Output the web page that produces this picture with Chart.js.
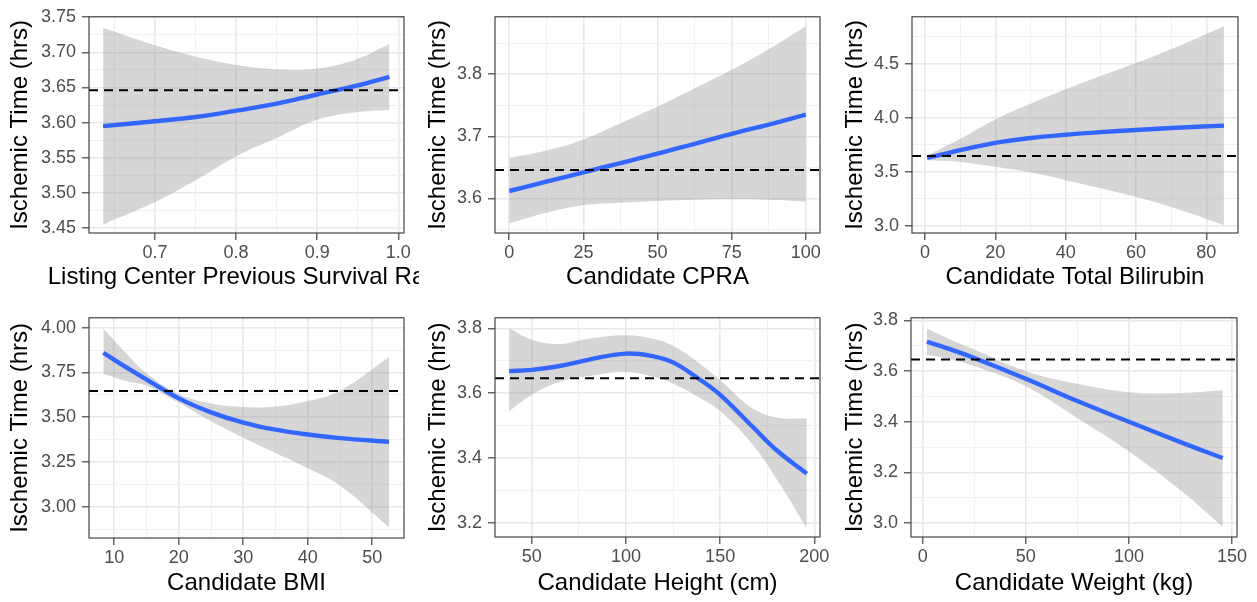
<!DOCTYPE html>
<html>
<head>
<meta charset="utf-8">
<script src="https://cdn.jsdelivr.net/npm/chart.js@4.4.1/dist/chart.umd.min.js"></script>
<style>
  html, body { margin: 0; padding: 0; background: #fff; }
  #wrap { position: relative; width: 1257px; height: 602px; overflow: hidden; }
  #wrap canvas { position: absolute; }
</style>
</head>
<body>
<div id="wrap"></div>
<script>
// smooth fits of ischemic time vs candidate / center covariates
const yTitle = 'Ischemic Time (hrs)';
const refMean = 3.646;   // overall mean, dashed line

// listing center previous survival rate
const survX   = [0.636, 0.70, 0.75, 0.80, 0.85, 0.90, 0.95, 0.989];
const survFit = [3.595, 3.602, 3.608, 3.617, 3.627, 3.640, 3.653, 3.665];
const survLo  = [3.455, 3.487, 3.518, 3.552, 3.578, 3.604, 3.615, 3.618];
const survHi  = [3.735, 3.710, 3.694, 3.682, 3.676, 3.677, 3.691, 3.712];
const survXTicks = ['0.7', '0.8', '0.9', '1.0'];
const survYTicks = ['3.45', '3.50', '3.55', '3.60', '3.65', '3.70', '3.75'];

// candidate CPRA
const cpraX   = [0, 12.5, 25, 37.5, 50, 62.5, 75, 87.5, 100];
const cpraFit = [3.612, 3.627, 3.642, 3.657, 3.672, 3.688, 3.704, 3.719, 3.735];
const cpraLo  = [3.560, 3.577, 3.589, 3.593, 3.596, 3.598, 3.599, 3.598, 3.595];
const cpraHi  = [3.665, 3.677, 3.695, 3.721, 3.748, 3.777, 3.807, 3.840, 3.877];
const cpraXTicks = ['0', '25', '50', '75', '100'];
const cpraYTicks = ['3.6', '3.7', '3.8'];

// candidate total bilirubin
const biliX   = [0.6, 5, 10, 20, 30, 40, 50, 60, 70, 85];
const biliFit = [3.630, 3.662, 3.700, 3.768, 3.813, 3.843, 3.867, 3.887, 3.905, 3.928];
const biliLo  = [3.608, 3.602, 3.592, 3.548, 3.495, 3.423, 3.347, 3.267, 3.175, 3.008];
const biliHi  = [3.652, 3.722, 3.805, 3.985, 4.130, 4.263, 4.387, 4.507, 4.635, 4.848];
const biliXTicks = ['0', '20', '40', '60', '80'];
const biliYTicks = ['3.0', '3.5', '4.0', '4.5'];

// candidate BMI
const bmiX   = [8.3, 12, 15, 20, 25, 30, 35, 40, 45, 52.6];
const bmiFit = [3.860, 3.775, 3.710, 3.605, 3.527, 3.470, 3.430, 3.403, 3.383, 3.362];
const bmiLo  = [3.742, 3.700, 3.675, 3.580, 3.477, 3.385, 3.300, 3.215, 3.118, 2.885];
const bmiHi  = [3.995, 3.850, 3.745, 3.630, 3.577, 3.557, 3.560, 3.590, 3.648, 3.835];
const bmiXTicks = ['10', '20', '30', '40', '50'];
const bmiYTicks = ['3.00', '3.25', '3.50', '3.75', '4.00'];

// candidate height (cm)
const htX   = [38, 50, 65, 80, 100, 115, 125, 138, 150, 167, 180, 196];
const htFit = [3.668, 3.672, 3.684, 3.703, 3.722, 3.713, 3.695, 3.647, 3.595, 3.498, 3.424, 3.352];
const htLo  = [3.544, 3.595, 3.635, 3.652, 3.665, 3.650, 3.630, 3.590, 3.545, 3.443, 3.335, 3.184];
const htHi  = [3.800, 3.765, 3.752, 3.768, 3.779, 3.767, 3.746, 3.696, 3.640, 3.554, 3.525, 3.522];
const htXTicks = ['50', '100', '150', '200'];
const htYTicks = ['3.2', '3.4', '3.6', '3.8'];

// candidate weight (kg)
const wtX   = [2, 12, 25, 50, 75, 100, 125, 145.5];
const wtFit = [3.716, 3.690, 3.652, 3.570, 3.482, 3.400, 3.320, 3.257];
const wtLo  = [3.665, 3.650, 3.620, 3.540, 3.414, 3.283, 3.130, 2.985];
const wtHi  = [3.767, 3.730, 3.685, 3.600, 3.550, 3.517, 3.514, 3.525];
const wtXTicks = ['0', '50', '100', '150'];
const wtYTicks = ['3.0', '3.2', '3.4', '3.6', '3.8'];

const FONT = '"Liberation Sans", Arial, Helvetica, sans-serif';
const CELL_W = 419, CELL_H = 301;
const BAND = 'rgba(153,153,153,0.4)';

// area = [left, top, right, bottom] of the plot panel inside its cell
const panels = [
  { left: 0,   top: 0,   area: [89, 11, 404, 233], xr: [0.6186, 1.007], yr: [3.4431, 3.7505],
    xTitle: 'Listing Center Previous Survival Rate', xs: survX, fit: survFit, lo: survLo, hi: survHi,
    xt: survXTicks, yt: survYTicks, tPadY: 6, tPadX: 9 },
  { left: 419, top: 0,   area: [76, 12, 401, 233], xr: [-4.82, 104.8], yr: [3.5444, 3.8924],
    xTitle: 'Candidate CPRA', xs: cpraX, fit: cpraFit, lo: cpraLo, hi: cpraHi,
    xt: cpraXTicks, yt: cpraYTicks, tPadY: 5, tPadX: 9 },
  { left: 838, top: 0,   area: [74, 12, 400, 233], xr: [-3.7, 89.0], yr: [2.934, 4.9345],
    xTitle: 'Candidate Total Bilirubin', xs: biliX, fit: biliFit, lo: biliLo, hi: biliHi,
    xt: biliXTicks, yt: biliYTicks, tPadY: 3, tPadX: 9 },
  { left: 0,   top: 301, area: [89, 15, 404, 237], xr: [6.08, 54.92], yr: [2.8249, 4.0552],
    xTitle: 'Candidate BMI', xs: bmiX, fit: bmiFit, lo: bmiLo, hi: bmiHi,
    xt: bmiXTicks, yt: bmiYTicks, tPadY: 6, tPadX: 4 },
  { left: 419, top: 301, area: [76, 14, 401, 236], xr: [30.52, 203.0], yr: [3.1566, 3.8325],
    xTitle: 'Candidate Height (cm)', xs: htX, fit: htFit, lo: htLo, hi: htHi,
    xt: htXTicks, yt: htYTicks, tPadY: 5, tPadX: 4 },
  { left: 838, top: 301, area: [73, 14, 399, 236], xr: [-5.67, 152.4], yr: [2.9455, 3.8105],
    xTitle: 'Candidate Weight (kg)', xs: wtX, fit: wtFit, lo: wtLo, hi: wtHi,
    xt: wtXTicks, yt: wtYTicks, tPadY: 3, tPadX: 4 }
];

// panel border drawn over the data like ggplot's theme_bw
const frame = {
  id: 'frame',
  afterDatasetsDraw(chart) {
    const { ctx, chartArea: a } = chart;
    ctx.save();
    ctx.strokeStyle = '#333333';
    ctx.lineWidth = 1.1;
    ctx.strokeRect(a.left, a.top, a.right - a.left, a.bottom - a.top);
    ctx.restore();
  }
};

// x title drawn without the scale's maxWidth squeeze, so a long one gets cut at the cell edge
const xTitle = {
  id: 'xTitle',
  afterDraw(chart, args, opts) {
    const { ctx, chartArea: a } = chart;
    ctx.save();
    ctx.font = '24px ' + FONT;
    ctx.fillStyle = '#000000';
    ctx.textAlign = 'center';
    ctx.textBaseline = 'middle';
    ctx.fillText(opts.text, (a.left + a.right) / 2, chart.height - 14.4 - opts.pad);
    ctx.restore();
  }
};

function pts(xs, ys) {
  return xs.map((x, i) => ({ x: x, y: ys[i] }));
}

// major ticks from the label list, minor ticks half way between
function axis(range, labels, opts) {
  const majors = labels.map(Number);
  const step = majors[1] - majors[0];
  const minors = [];
  for (let m = majors[0] - step / 2; m <= range[1]; m += step) {
    if (m >= range[0]) minors.push(m);
  }
  const idx = v => majors.findIndex(m => Math.abs(m - v) < step * 1e-6);
  const major = c => c.tick && idx(c.tick.value) >= 0;
  return {
    type: 'linear',
    min: range[0],
    max: range[1],
    afterBuildTicks: s => {
      s.ticks = majors.concat(minors).sort((a, b) => a - b).map(v => ({ value: v }));
    },
    afterFit: opts.fit,
    border: { display: false },
    grid: {
      color: c => major(c) ? '#E8E8E8' : '#F1F1F1',
      lineWidth: c => major(c) ? 1.6 : 1,
      tickColor: c => major(c) ? '#333333' : 'rgba(0,0,0,0)',
      tickLength: 7,
      tickWidth: 1.1
    },
    ticks: {
      autoSkip: false,
      maxRotation: 0,
      minRotation: 0,
      padding: opts.tickPad,
      color: '#4D4D4D',
      font: { family: FONT, size: 18 },
      callback: v => { const i = idx(v); return i >= 0 ? labels[i] : ''; }
    },
    title: opts.title || { display: false }
  };
}

const wrap = document.getElementById('wrap');

panels.forEach(p => {
  const cv = document.createElement('canvas');
  cv.width = CELL_W;
  cv.height = CELL_H;
  cv.style.left = p.left + 'px';
  cv.style.top = p.top + 'px';
  wrap.appendChild(cv);
  const [aL, aT, aR, aB] = p.area;

  new Chart(cv, {
    type: 'line',
    data: {
      datasets: [
        { data: pts(p.xs, p.hi), fill: '+1', backgroundColor: BAND, borderColor: 'rgba(0,0,0,0)',
          borderWidth: 1, pointRadius: 0, tension: 0.4, order: 3 },
        { data: pts(p.xs, p.lo), fill: false, borderColor: 'rgba(0,0,0,0)',
          borderWidth: 1, pointRadius: 0, tension: 0.4, order: 3 },
        { data: pts(p.xs, p.fit), fill: false, borderColor: '#3366FF',
          borderWidth: 4.4, pointRadius: 0, tension: 0.4, order: 2 },
        { data: [{ x: p.xr[0], y: refMean }, { x: p.xr[1], y: refMean }], fill: false,
          borderColor: '#000000', borderWidth: 2, borderDash: [9, 6], pointRadius: 0, order: 1 }
      ]
    },
    options: {
      responsive: false,
      animation: false,
      events: [],
      layout: { padding: { left: 0, top: aT, right: CELL_W - aR, bottom: 0 } },
      plugins: {
        legend: { display: false },
        tooltip: { enabled: false },
        xTitle: { text: p.xTitle, pad: p.tPadX }
      },
      scales: {
        x: axis(p.xr, p.xt, {
          tickPad: 2,
          fit: s => { s.height = CELL_H - aB; }
        }),
        y: axis(p.yr, p.yt, {
          tickPad: 6,
          title: {
            display: true,
            text: yTitle,
            color: '#000000',
            font: { family: FONT, size: 24 },
            padding: { top: p.tPadY, bottom: 0 }
          },
          fit: s => { s.width = aL; }
        })
      }
    },
    plugins: [frame, xTitle]
  });
});
</script>
</body>
</html>
